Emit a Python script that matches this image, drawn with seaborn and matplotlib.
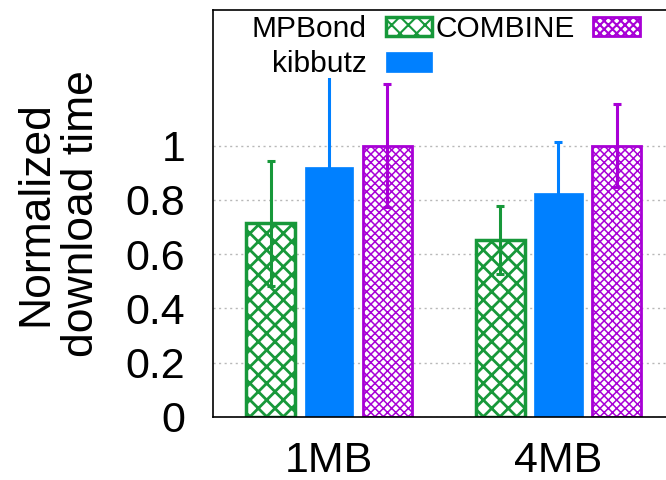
import matplotlib
matplotlib.use("Agg")
import matplotlib.pyplot as plt
import seaborn as sns
import pandas as pd

# ---- data ----
sizes = ["1MB", "4MB"]
schemes = ["MPBond", "kibbutz", "COMBINE"]
mpbond = [0.714, 0.653]
mpbond_err = [0.23, 0.125]
kibbutz = [0.923, 0.825]
kibbutz_err = [0.37, 0.19]
combine = [1.0, 1.0]
combine_err = [0.227, 0.152]
yticks = [0, 0.2, 0.4, 0.6, 0.8, 1]
ytick_labels = ["0", "0.2", "0.4", "0.6", "0.8", "1"]
ylabel = "Normalized\ndownload time"

colors = {"MPBond": "#17983a", "kibbutz": "#0080ff", "COMBINE": "#a800d6"}
hatches = {"MPBond": "xx", "kibbutz": "", "COMBINE": "xxxx"}
hatch_lw = {"MPBond": 2.0, "kibbutz": 1.0, "COMBINE": 1.1}

values = {"MPBond": mpbond, "kibbutz": kibbutz, "COMBINE": combine}
errors = {"MPBond": mpbond_err, "kibbutz": kibbutz_err, "COMBINE": combine_err}

rows = []
for s in schemes:
    for i, sz in enumerate(sizes):
        rows.append({"size": sz, "scheme": s, "value": values[s][i]})
df = pd.DataFrame(rows)

sns.set_theme(style="white")
plt.rcParams["font.family"] = ["Liberation Sans", "DejaVu Sans"]
plt.rcParams["hatch.linewidth"] = 1.5
plt.rcParams["text.color"] = "black"
plt.rcParams["axes.labelcolor"] = "black"

fig = plt.figure(figsize=(6.66, 4.8), dpi=100)
ax = fig.add_axes([213 / 666, 63 / 480, 480 / 666, 407 / 480])

sns.barplot(data=df, x="size", y="value", hue="scheme", hue_order=schemes,
            order=sizes, palette=colors, width=0.76, gap=0.16,
            errorbar=None, ax=ax, legend=False, zorder=2)

handles = []
for s, cont in zip(schemes, ax.containers):
    c = colors[s]
    for p in cont.patches:
        if hatches[s]:
            p.set_facecolor("white")
            p.set_edgecolor(c)
            p.set_hatch(hatches[s])
            p.set_linewidth(2.5 if s == "MPBond" else 2.0)
            if hasattr(p, "set_hatch_linewidth"):
                p.set_hatch_linewidth(hatch_lw[s])
        else:
            p.set_facecolor(c)
            p.set_edgecolor(c)
            p.set_linewidth(0.5)
    xs = [p.get_x() + p.get_width() / 2 for p in cont.patches]
    ys = [p.get_height() for p in cont.patches]
    ax.errorbar(xs, ys, yerr=errors[s], fmt="none", ecolor=c, elinewidth=2.2,
                capsize=2.6, capthick=2.2, zorder=3)
    handles.append(cont.patches[0])

ax.set_xlim(-0.505, 1.586)
ax.set_ylim(0, 1.5)
ax.set_yticks(yticks)
ax.set_yticklabels(ytick_labels)
ax.set_xlabel("")
ax.set_ylabel(ylabel, fontsize=32, linespacing=1.15, labelpad=17)
ax.tick_params(axis="y", direction="in", length=6, width=1, pad=20,
               labelsize=31, colors="black")
ax.tick_params(axis="x", length=0, pad=17, labelsize=31, colors="black")

ax.grid(axis="y", color="#b8b8b8", linestyle=(0, (1.5, 2.5)), linewidth=1.0)
ax.grid(axis="x", visible=False)
ax.set_axisbelow(True)
for sp in ax.spines.values():
    sp.set_color("black")
    sp.set_linewidth(1.2)
ax.spines["right"].set_visible(False)

leg = ax.legend(handles, schemes, ncol=2, markerfirst=False,
                loc="upper left", bbox_to_anchor=(252 / 666, 1 - 15 / 480),
                bbox_transform=fig.transFigure, fontsize=21.5,
                handlelength=1.55, handleheight=0.62, handletextpad=0.62,
                columnspacing=0.12, labelspacing=0.25, borderpad=0,
                borderaxespad=0, frameon=True, fancybox=False,
                facecolor="white", edgecolor="none", framealpha=1)
leg.set_zorder(5)

fig.savefig("out.png", dpi=100)
